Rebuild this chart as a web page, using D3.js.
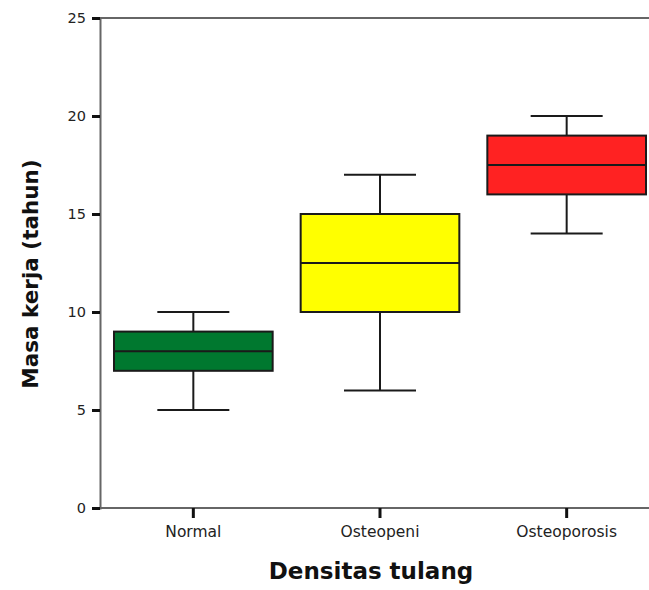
<!DOCTYPE html>
<html lang="id">
<head>
<meta charset="UTF-8">
<title>Masa kerja vs Densitas tulang</title>
<script src="https://d3js.org/d3.v7.min.js"></script>
<style>
  body { margin: 0; background: #fff; }
  svg { display: block; }
</style>
</head>
<body>
<div id="chart"></div>
<script>
// Box plot data
const categories = ["Normal", "Osteopeni", "Osteoporosis"];
const whiskerLow = [5, 6, 14];
const q1 = [7, 10, 16];
const median = [8, 12.5, 17.5];
const q3 = [9, 15, 19];
const whiskerHigh = [10, 17, 20];
const boxColors = ["#00782f", "#ffff00", "#ff2222"];
const yTicks = [0, 5, 10, 15, 20, 25];

const width = 649, height = 590;
const margin = { top: 18, right: -11, bottom: 82, left: 100 };

const svg = d3.select("#chart").append("svg")
  .attr("width", width)
  .attr("height", height);

const x = d3.scaleBand()
  .domain(categories)
  .range([margin.left, width - margin.right])
  .padding(0);

const y = d3.scaleLinear()
  .domain([0, 25])
  .range([height - margin.bottom, margin.top]);

const boxes = categories.map((c, i) => ({
  cat: c, lo: whiskerLow[i], q1: q1[i], med: median[i], q3: q3[i], hi: whiskerHigh[i], color: boxColors[i]
}));

// top frame line
svg.append("line")
  .attr("x1", margin.left).attr("x2", width)
  .attr("y1", y(25)).attr("y2", y(25))
  .attr("stroke", "#666").attr("stroke-width", 2);

// axes
const yAxis = svg.append("g")
  .attr("transform", `translate(${margin.left},0)`)
  .call(d3.axisLeft(y).tickValues(yTicks).tickSize(8).tickPadding(6));

const xAxis = svg.append("g")
  .attr("transform", `translate(0,${y(0)})`)
  .call(d3.axisBottom(x).tickSize(10).tickPadding(8));

[yAxis, xAxis].forEach(g => {
  g.select(".domain").attr("stroke", "#666").attr("stroke-width", 2);
  g.selectAll(".tick line").attr("stroke", "#111").attr("stroke-width", 3);
  g.selectAll(".tick text")
    .attr("font-family", "DejaVu Sans, Verdana, sans-serif")
    .attr("fill", "#222");
});
yAxis.selectAll(".tick text").attr("font-size", 14.5);
xAxis.selectAll(".tick text").attr("font-size", 15.5);
xAxis.select(".domain").attr("d", `M${margin.left},0H${width}`);

// boxes
const boxW = x.bandwidth() * 0.85;
const capW = 72;
const g = svg.append("g").selectAll("g").data(boxes).join("g")
  .attr("transform", d => `translate(${x(d.cat) + x.bandwidth() / 2},0)`);

g.append("line")
  .attr("x1", 0).attr("x2", 0)
  .attr("y1", d => y(d.lo)).attr("y2", d => y(d.hi))
  .attr("stroke", "#1a1a1a").attr("stroke-width", 2);

g.append("line")
  .attr("x1", -capW / 2).attr("x2", capW / 2)
  .attr("y1", d => y(d.lo)).attr("y2", d => y(d.lo))
  .attr("stroke", "#1a1a1a").attr("stroke-width", 2);

g.append("line")
  .attr("x1", -capW / 2).attr("x2", capW / 2)
  .attr("y1", d => y(d.hi)).attr("y2", d => y(d.hi))
  .attr("stroke", "#1a1a1a").attr("stroke-width", 2);

g.append("rect")
  .attr("x", -boxW / 2)
  .attr("width", boxW)
  .attr("y", d => y(d.q3))
  .attr("height", d => y(d.q1) - y(d.q3))
  .attr("fill", d => d.color)
  .attr("stroke", "#1a1a1a").attr("stroke-width", 2);

g.append("line")
  .attr("x1", -boxW / 2).attr("x2", boxW / 2)
  .attr("y1", d => y(d.med)).attr("y2", d => y(d.med))
  .attr("stroke", "#1a1a1a").attr("stroke-width", 2);

// axis titles
svg.append("text")
  .attr("x", 371).attr("y", 579)
  .attr("text-anchor", "middle")
  .attr("font-family", "DejaVu Sans, Verdana, sans-serif")
  .attr("font-weight", "bold")
  .attr("font-size", 23)
  .attr("fill", "#111")
  .text("Densitas tulang");

svg.append("text")
  .attr("transform", "translate(38,274) rotate(-90)")
  .attr("text-anchor", "middle")
  .attr("font-family", "DejaVu Sans, Verdana, sans-serif")
  .attr("font-weight", "bold")
  .attr("font-size", 21.5)
  .attr("fill", "#111")
  .text("Masa kerja (tahun)");
</script>
</body>
</html>
